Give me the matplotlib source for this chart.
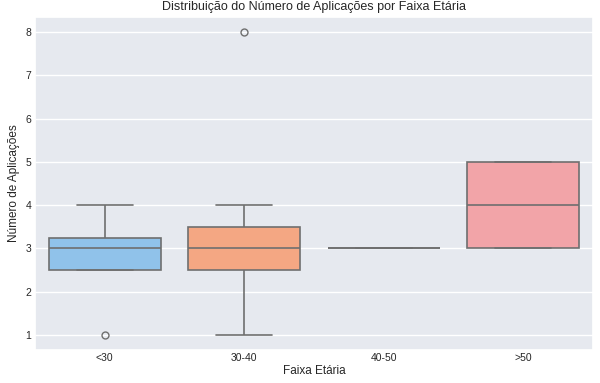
import numpy as np
import pandas as pd
import matplotlib
matplotlib.use("Agg")
import matplotlib.pyplot as plt
import seaborn as sns

# raw observations per age group
grupos = ["<30", "30-40", "40-50", ">50"]
menos_30 = [1, 3, 3, 4]
de_30_40 = [1, 2, 3, 3, 3, 4, 8]
de_40_50 = [3, 3]
mais_50 = [3, 3, 5, 5]
cores = ["#90c2ea", "#f4a783", "#8de5a1", "#f2a4a8"]

valores = [menos_30, de_30_40, de_40_50, mais_50]
df = pd.DataFrame({
    "Faixa Etária": np.repeat(grupos, [len(v) for v in valores]),
    "Número de Aplicações": np.concatenate(valores),
})

sns.set_theme(style="darkgrid", rc={"axes.facecolor": "#e6e9ef"})
plt.rcParams["font.family"] = ["Liberation Sans", "DejaVu Sans"]

fig, ax = plt.subplots(figsize=(6, 3.83), dpi=100)
fig.subplots_adjust(left=35/600, right=593/600, top=1-17/383, bottom=1-350/383)

sns.boxplot(data=df, x="Faixa Etária", y="Número de Aplicações", hue="Faixa Etária",
            order=grupos, hue_order=grupos, palette=cores, saturation=1, legend=False,
            ax=ax, linewidth=1.2, flierprops=dict(markersize=5))

ax.set_title("Distribuição do Número de Aplicações por Faixa Etária", fontsize=9, pad=5)
ax.set_xlabel("Faixa Etária", fontsize=8.5, labelpad=1)
ax.set_ylabel("Número de Aplicações", fontsize=8.5, labelpad=4)
ax.tick_params(labelsize=7.5, length=0, pad=2.5)

fig.savefig("out.png", dpi=100)
